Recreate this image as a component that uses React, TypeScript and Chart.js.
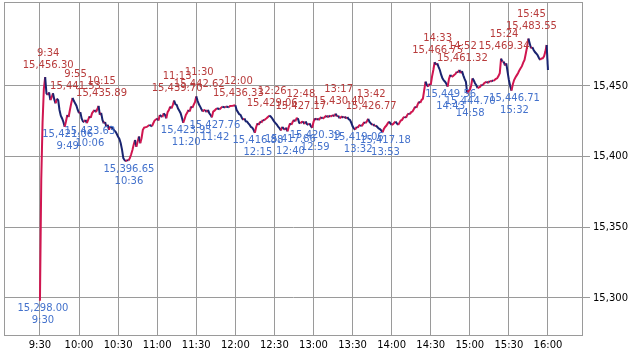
import { useEffect, useRef } from "react";
import { Chart, registerables } from "chart.js";
Chart.register(...registerables);

// minutes after 9:30
const minutes = [
  0,1,2,3,4,5,6,7,8,9,10,11,12,13,14,15,16,17,18,19,20,21,22,23,24,25,26,27,28,29,
  30,31,32,33,34,35,36,37,38,39,40,41,42,43,44,45,46,47,48,49,50,51,52,53,54,55,56,57,58,59,
  60,61,62,63,64,65,66,67,68,69,70,71,72,73,74,75,76,77,78,79,80,82,84,86,87,88,90,91,92,94,
  95,96,97,98,99,100,101,102,103,104,105,106,107,108,109,110,111,112,113,114,115,116,117,118,119,
  120,121,122,123,124,125,126,127,128,129,130,131,132,133,134,135,136,138,139,140,142,143,145,146,148,
  150,151,152,153,154,155,156,157,158,159,160,161,162,163,164,165,166,167,168,169,170,171,172,173,174,
  175,176,177,178,179,180,181,182,183,184,185,186,187,188,189,190,191,192,193,194,195,196,197,198,199,
  200,201,202,203,204,205,206,207,208,209,210,211,212,213,214,215,216,217,218,219,220,221,222,223,224,
  225,226,227,228,229,230,231,232,233,234,235,236,237,238,239,240,241,242,243,244,245,246,247,248,249,
  250,251,252,253,254,255,256,257,258,259,260,261,262,263,264,265,266,267,268,269,270,271,272,273,274,
  275,276,277,278,279,280,281,282,283,284,285,286,287,288,289,290,291,292,293,294,295,296,297,298,299,
  300,301,302,303,304,305,306,307,308,309,310,311,312,313,314,315,316,317,318,319,320,321,322,323,324,
  325,326,327,328,329,330,331,332,333,334,335,336,337,338,339,340,341,342,343,344,345,346,347,348,349,
  350,351,352,353,354,355,356,357,358,359,360,361,362,363,364,365,366,367,368,369,370,371,372,373,374,
  375,376,377,378,379,380,381,382,383,384,385,386,387,388,389,390,
];

const prices = [
  15298.00,15383.5,15424.0,15448.0,15456.30,15444.8,15443.6,15445.5,15440.0,15442.0,15444.8,15440.5,15437.7,15441.0,15440.0,15433.0,15429.0,15427.0,15424.5,15421.06,15425.0,15429.5,15428.0,15433.0,15437.7,15441.53,15439.5,15437.7,15436.0,15433.0,
  15430.7,15431.5,15427.0,15425.0,15424.5,15426.0,15423.63,15426.0,15428.5,15427.5,15430.7,15432.0,15433.0,15431.5,15433.5,15435.89,15429.5,15431.0,15426.0,15423.6,15424.5,15421.0,15422.5,15419.0,15421.5,15420.5,15420.0,15418.5,15417.7,15416.0,
  15414.0,15412.5,15409.5,15405.0,15398.9,15397.5,15396.65,15397.7,15397.2,15398.9,15401.5,15404.7,15408.5,15411.8,15407.0,15410.5,15414.2,15409.5,15413.0,15419.0,15420.5,15421.0,15422.4,15421.5,15423.6,15425.5,15427.0,15425.5,15429.5,15428.0,
  15430.7,15429.5,15427.1,15431.5,15433.0,15435.4,15434.2,15436.5,15439.70,15437.0,15436.6,15434.0,15432.5,15430.7,15427.5,15423.95,15426.5,15429.5,15431.0,15433.0,15432.0,15435.4,15434.5,15436.6,15438.5,
  15442.62,15439.5,15437.0,15435.4,15433.5,15431.9,15432.8,15433.0,15431.5,15433.0,15430.7,15429.5,15427.76,15431.9,15432.5,15433.5,15434.2,15433.5,15434.5,15435.4,15434.8,15435.4,15435.0,15435.9,15436.0,
  15436.33,15433.0,15431.5,15430.0,15429.5,15427.5,15426.0,15427.0,15425.0,15424.8,15423.5,15422.4,15421.0,15420.5,15419.0,15416.88,15421.0,15423.6,15422.5,15424.8,15424.0,15426.0,15425.5,15426.5,15427.1,
  15428.0,15429.06,15428.5,15427.5,15426.0,15424.5,15423.5,15422.4,15421.0,15420.0,15418.5,15421.0,15420.0,15419.0,15420.5,15417.86,15421.0,15423.6,15422.5,15424.5,15426.0,15425.0,15427.1,15427.17,15424.0,
  15423.6,15424.5,15424.8,15423.0,15424.8,15423.0,15422.4,15423.5,15421.5,15420.39,15424.5,15427.1,15426.0,15427.0,15425.8,15427.1,15428.0,15426.8,15427.5,15428.3,15429.0,15427.8,15429.0,15428.3,15428.8,
  15429.5,15428.5,15430.40,15428.5,15429.0,15427.1,15427.8,15428.5,15427.5,15428.3,15427.0,15428.0,15426.5,15426.0,15424.0,15421.5,15420.0,15419.06,15421.0,15420.5,15422.0,15422.4,15421.5,15423.0,15424.5,
  15423.6,15425.0,15426.77,15424.5,15423.5,15422.4,15423.0,15421.5,15422.0,15421.0,15420.0,15419.5,15418.5,15417.18,15419.5,15421.0,15422.0,15423.5,15424.8,15423.5,15422.4,15423.0,15424.0,15424.8,15423.5,
  15422.4,15424.0,15425.5,15426.0,15427.5,15428.3,15427.5,15429.5,15430.7,15430.0,15431.5,15431.9,15433.5,15435.4,15434.5,15437.0,15438.9,15438.0,15440.1,15441.0,15447.0,15453.0,15450.7,15449.5,15451.5,
  15450.7,15456.6,15461.3,15466.75,15465.0,15466.0,15463.5,15461.3,15458.0,15455.4,15454.0,15453.0,15451.5,15449.56,15455.0,15457.8,15456.5,15457.0,15457.8,15458.5,15460.1,15459.5,15461.32,15459.0,15460.5,
  15457.5,15455.0,15453.0,15444.70,15446.5,15447.2,15450.0,15455.4,15454.0,15451.9,15450.5,15448.4,15449.0,15449.5,15451.0,15450.5,15451.9,15452.5,15453.0,15452.0,15453.5,15453.0,15454.0,15453.5,15454.2,
  15455.0,15455.4,15457.0,15459.0,15469.34,15467.2,15467.2,15464.5,15466.0,15460.0,15454.2,15450.0,15446.71,15451.0,15454.2,15456.0,15457.5,15459.0,15461.0,15462.5,15464.0,15466.5,15468.4,15473.0,15477.8,
  15483.55,15480.0,15476.6,15477.5,15475.5,15474.0,15473.0,15471.9,15470.0,15468.4,15469.5,15469.6,15471.0,15474.3,15479.0,15461.3,
];

const tickMinutes = [0, 30, 60, 90, 120, 150, 180, 210, 240, 270, 300, 330, 360, 390];
const tickLabels = ["9:30", "10:00", "10:30", "11:00", "11:30", "12:00", "12:30", "13:00", "13:30", "14:00", "14:30", "15:00", "15:30", "16:00"];
const yTicks = [15300, 15350, 15400, 15450];

const highMinutes = [4, 25, 45, 103, 120, 150, 176, 198, 227, 252, 303, 322, 354, 375];
const highValues = [15456.30, 15441.53, 15435.89, 15439.70, 15442.62, 15436.33, 15429.06, 15427.17, 15430.40, 15426.77, 15466.75, 15461.32, 15469.34, 15483.55];
const lowMinutes = [0, 19, 36, 66, 110, 132, 165, 190, 209, 242, 263, 313, 328, 362];
const lowValues = [15298.00, 15421.06, 15423.63, 15396.65, 15423.95, 15427.76, 15416.88, 15417.86, 15420.39, 15419.06, 15417.18, 15449.56, 15444.70, 15446.71];

const RED = "#d01650";
const NAVY = "#1a2470";
const RED_TEXT = "#b83c3c";
const BLUE_TEXT = "#4472cc";
const GRID = "#9a9a9a";
const FONT = "DejaVu Sans";

const fmtTime = (m: number) => {
  const t = 570 + m;
  const h = Math.floor(t / 60);
  const mm = t % 60;
  return `${h}:${mm < 10 ? "0" + mm : mm}`;
};
const fmtVal = (v: number) =>
  v.toLocaleString("en-US", { minimumFractionDigits: 2, maximumFractionDigits: 2 });

const borderPlugin = {
  id: "borderRect",
  beforeDatasetsDraw(chart: any) {
    const { ctx, chartArea: a } = chart;
    ctx.save();
    ctx.strokeStyle = GRID;
    ctx.lineWidth = 1;
    ctx.strokeRect(a.left + 0.5, a.top + 0.5, a.right - a.left - 1, a.bottom - a.top - 1);
    ctx.restore();
  },
};

const labelPlugin = {
  id: "extremeLabels",
  afterDatasetsDraw(chart: any) {
    const { ctx, scales } = chart;
    ctx.save();
    ctx.font = `10px "${FONT}"`;
    ctx.textAlign = "center";
    ctx.textBaseline = "middle";
    highMinutes.forEach((m, i) => {
      const x = scales.x.getPixelForValue(m) + 3;
      const y = scales.y.getPixelForValue(highValues[i]);
      ctx.fillStyle = RED_TEXT;
      ctx.fillText(fmtTime(m), x, y - 24);
      ctx.fillText(fmtVal(highValues[i]), x, y - 12);
    });
    lowMinutes.forEach((m, i) => {
      const x = scales.x.getPixelForValue(m) + 3;
      const y = scales.y.getPixelForValue(lowValues[i]);
      ctx.fillStyle = BLUE_TEXT;
      ctx.fillText(fmtVal(lowValues[i]), x, y + 8);
      ctx.fillText(fmtTime(m), x, y + 20);
    });
    ctx.restore();
  },
};

export default function App() {
  const ref = useRef<HTMLCanvasElement | null>(null);
  useEffect(() => {
    document.body.style.margin = "0";
    const canvas = ref.current;
    if (!canvas) return;
    const chart = new Chart(canvas, {
      type: "line",
      data: {
        datasets: [
          {
            data: minutes.map((m, i) => ({ x: m, y: prices[i] })),
            borderWidth: 2,
            pointRadius: 0,
            tension: 0,
            borderColor: RED,
            segment: {
              borderColor: (c: any) => (c.p1.parsed.y >= c.p0.parsed.y ? RED : NAVY),
            },
          },
        ],
      },
      options: {
        animation: false,
        responsive: false,
        devicePixelRatio: 1,
        layout: { padding: { left: 4, top: 2, right: 0, bottom: 0 } },
        plugins: { legend: { display: false }, tooltip: { enabled: false } },
        scales: {
          x: {
            type: "linear",
            min: -27.6,
            max: 416.9,
            afterBuildTicks: (s: any) => {
              s.ticks = tickMinutes.map((v) => ({ value: v }));
            },
            afterFit: (s: any) => {
              s.height = 18;
              s.paddingLeft = 0;
              s.paddingRight = 0;
            },
            ticks: {
              autoSkip: false,
              maxRotation: 0,
              padding: 3,
              color: "#000",
              font: { family: FONT, size: 10 },
              callback: (v: any) => {
                const i = tickMinutes.indexOf(Number(v));
                return i >= 0 ? tickLabels[i] : "";
              },
            },
            grid: { color: GRID, drawTicks: false },
            border: { display: false },
          },
          y: {
            position: "right",
            min: 15273.1,
            max: 15509.4,
            afterBuildTicks: (s: any) => {
              s.ticks = yTicks.map((v) => ({ value: v }));
            },
            afterFit: (s: any) => {
              s.width = 51;
              s.paddingTop = 0;
              s.paddingBottom = 0;
            },
            ticks: {
              padding: 3,
              color: "#000",
              font: { family: FONT, size: 10 },
              callback: (v: any) => Number(v).toLocaleString("en-US"),
            },
            grid: { color: GRID, tickLength: 7 },
            border: { display: false },
          },
        },
      },
      plugins: [borderPlugin, labelPlugin],
    } as any);
    return () => chart.destroy();
  }, []);
  return (
    <div style={{ position: "absolute", left: 0, top: 0, width: 634, height: 354, background: "#fff" }}>
      <canvas ref={ref} width={634} height={354} style={{ display: "block" }} />
    </div>
  );
}
